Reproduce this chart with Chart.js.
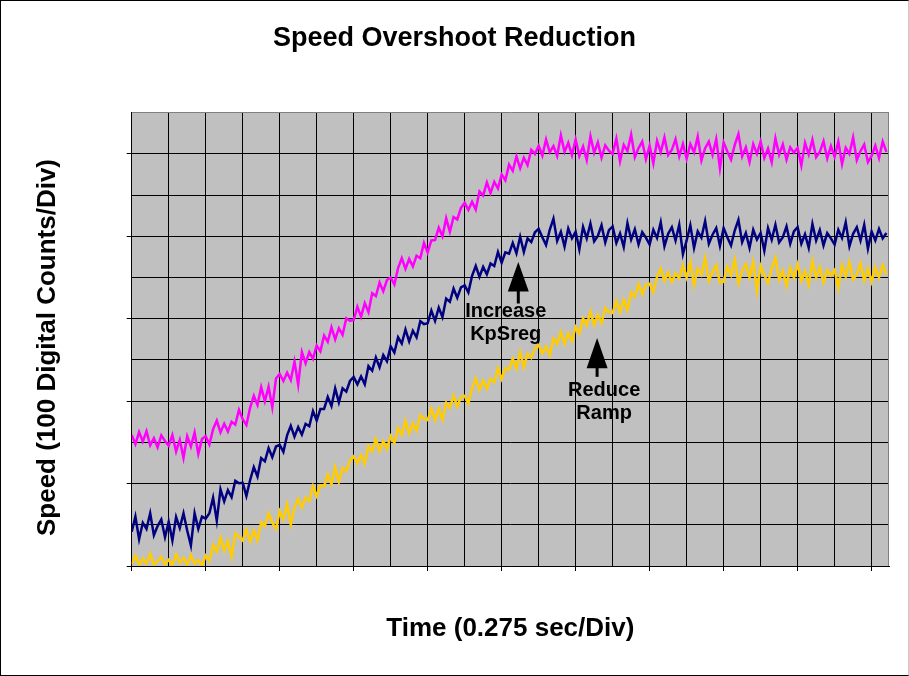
<!DOCTYPE html>
<html>
<head>
<meta charset="utf-8">
<title>Speed Overshoot Reduction</title>
<script src="https://cdn.jsdelivr.net/npm/chart.js@4.4.1/dist/chart.umd.min.js"></script>
<style>
  html, body { margin: 0; padding: 0; background: #fff; }
  #frame {
    position: absolute; left: 0; top: 0;
    width: 909px; height: 676px; box-sizing: border-box;
    border: 1px solid #000; border-right-color: #c8c8c8;
  }
  canvas { display: block; }
</style>
</head>
<body>
<div id="frame"><canvas id="chart" width="907" height="674"></canvas></div>
<script>
// --- Data (speed in divisions, one sample every 0.1 time division) ---
const SAMPLE_STEP = 0.1;

const magentaSpeed = [
  3.18, 2.96, 3.25, 3.02, 3.27, 2.93, 3.10, 2.88, 3.17, 3.03,
  2.92, 3.18, 2.78, 3.06, 2.62, 3.15, 2.90, 3.24, 2.72, 3.08,
  3.15, 2.95, 3.32, 3.53, 3.24, 3.45, 3.26, 3.50, 3.43, 3.79,
  3.56, 3.42, 3.84, 4.13, 3.91, 4.34, 4.00, 4.35, 3.85, 4.55,
  4.66, 4.49, 4.69, 4.51, 4.96, 4.40, 5.19, 4.92, 5.19, 5.03,
  5.35, 5.21, 5.59, 5.44, 5.79, 5.50, 5.77, 5.61, 6.01, 5.95,
  5.97, 6.29, 6.05, 6.38, 6.16, 6.62, 6.55, 6.88, 6.67, 6.94,
  7.00, 6.83, 7.23, 7.47, 7.21, 7.45, 7.27, 7.53, 7.47, 7.84,
  7.61, 7.90, 7.91, 8.21, 8.00, 8.44, 8.11, 8.47, 8.41, 8.69,
  8.81, 8.64, 8.84, 8.65, 9.09, 8.99, 9.31, 9.05, 9.32, 9.16,
  9.50, 9.36, 9.74, 9.59, 9.94, 9.65, 9.91, 9.73, 10.10, 10.00,
  10.20, 9.96, 10.35, 10.04, 10.19, 9.95, 10.45, 10.05, 10.27, 9.97,
  10.35, 9.95, 10.18, 9.85, 10.43, 10.03, 10.28, 9.91, 10.21, 10.08,
  10.00, 10.37, 9.82, 10.22, 10.07, 10.47, 9.92, 10.14, 10.30, 9.87,
  10.20, 9.77, 10.32, 10.04, 10.40, 9.97, 10.10, 10.36, 9.94, 10.24,
  9.88, 10.24, 10.04, 10.42, 9.84, 10.14, 10.30, 9.98, 10.36, 9.65,
  10.28, 10.06, 9.86, 10.22, 10.48, 9.94, 10.16, 9.80, 10.24, 10.00,
  10.30, 9.90, 10.13, 9.80, 10.38, 9.98, 10.23, 9.86, 10.16, 10.03,
  10.15, 9.72, 10.27, 9.99, 10.35, 9.92, 10.05, 10.31, 9.89, 10.19,
  9.93, 10.30, 9.75, 10.15, 10.00, 10.40, 9.85, 10.07, 10.23, 9.80,
  9.95, 10.20, 9.90, 10.30, 10.05
];

const navySpeed = [
  0.83, 1.20, 0.65, 1.05, 0.90, 1.28, 0.75, 0.97, 1.13, 0.70,
  1.07, 0.62, 1.19, 0.92, 1.28, 0.86, 0.50, 1.28, 0.90, 1.20,
  1.15, 1.28, 1.66, 1.10, 1.86, 1.57, 1.84, 1.67, 2.07, 2.01,
  2.02, 1.70, 2.08, 2.40, 2.17, 2.62, 2.54, 2.86, 2.64, 2.90,
  2.94, 2.77, 3.17, 3.40, 3.14, 3.37, 3.19, 3.45, 3.39, 3.76,
  3.53, 3.81, 3.81, 4.10, 3.88, 4.31, 3.97, 4.31, 4.23, 4.49,
  4.59, 4.41, 4.60, 4.41, 4.85, 4.74, 5.06, 4.82, 5.12, 4.97,
  5.33, 5.18, 5.55, 5.40, 5.74, 5.45, 5.71, 5.55, 5.94, 5.87,
  5.89, 6.20, 5.95, 6.27, 6.04, 6.49, 6.41, 6.73, 6.51, 6.76,
  6.81, 6.64, 7.04, 7.28, 7.02, 7.26, 7.08, 7.34, 7.28, 7.62,
  7.36, 7.61, 7.58, 7.84, 7.59, 7.99, 7.62, 7.95, 7.86, 8.10,
  8.18, 7.98, 7.79, 8.16, 8.43, 7.89, 8.11, 7.75, 8.19, 7.95,
  8.11, 7.68, 8.23, 7.95, 8.31, 7.88, 8.01, 8.27, 7.85, 8.15,
  8.24, 7.84, 8.07, 7.74, 8.32, 7.92, 8.17, 7.80, 8.10, 7.97,
  7.80, 8.16, 7.96, 8.34, 7.76, 8.06, 8.22, 7.90, 8.28, 7.57,
  7.90, 8.27, 7.72, 8.12, 7.97, 8.37, 7.82, 8.04, 8.20, 7.77,
  8.20, 7.98, 7.78, 8.14, 8.40, 7.86, 8.08, 7.72, 8.16, 7.92,
  8.08, 7.65, 8.20, 7.92, 8.28, 7.85, 7.98, 8.24, 7.82, 8.12,
  8.22, 7.82, 8.05, 7.72, 8.30, 7.90, 8.15, 7.78, 8.08, 7.95,
  7.80, 8.16, 7.96, 8.34, 7.76, 8.06, 8.22, 7.90, 8.28, 7.70,
  8.12, 7.90, 8.18, 7.95, 8.08
];

const goldSpeed = [
  0.05, 0.25, 0.02, 0.18, 0.06, 0.30, 0.03, 0.12, 0.22, 0.04,
  0.15, 0.02, 0.28, 0.08, 0.20, 0.03, 0.26, 0.06, 0.14, 0.01,
  0.25, 0.13, 0.51, 0.35, 0.69, 0.37, 0.61, 0.22, 0.79, 0.70,
  0.62, 0.89, 0.59, 0.86, 0.62, 1.06, 0.97, 1.28, 1.05, 0.90,
  1.33, 1.13, 1.50, 1.00, 1.42, 1.63, 1.42, 1.66, 1.58, 1.94,
  1.70, 1.96, 1.94, 2.22, 1.98, 2.40, 2.04, 2.38, 2.30, 2.56,
  2.66, 2.49, 2.69, 2.49, 2.91, 2.78, 3.08, 2.79, 3.03, 2.84,
  3.15, 2.99, 3.35, 3.18, 3.52, 3.21, 3.46, 3.28, 3.66, 3.58,
  3.54, 3.82, 3.54, 3.82, 3.55, 3.96, 3.84, 4.13, 3.87, 4.10,
  4.13, 3.94, 4.32, 4.55, 4.27, 4.50, 4.30, 4.54, 4.46, 4.80,
  4.54, 4.80, 4.77, 5.03, 4.79, 5.19, 4.82, 5.15, 5.05, 5.28,
  5.36, 5.16, 5.33, 5.11, 5.52, 5.39, 5.68, 5.39, 5.65, 5.46,
  5.80, 5.64, 6.01, 5.84, 6.17, 5.85, 6.09, 5.90, 6.26, 6.16,
  6.14, 6.43, 6.16, 6.46, 6.21, 6.64, 6.54, 6.84, 6.60, 6.83,
  6.85, 6.65, 7.02, 7.22, 6.92, 7.12, 6.89, 7.10, 6.98, 7.29,
  7.00, 7.37, 6.82, 7.22, 7.07, 7.47, 6.92, 7.14, 7.30, 6.87,
  6.90, 7.26, 7.06, 7.44, 6.86, 7.16, 7.32, 7.00, 7.38, 6.67,
  7.28, 7.06, 6.86, 7.22, 7.48, 6.94, 7.16, 6.80, 7.24, 7.00,
  7.32, 6.92, 7.15, 6.82, 7.40, 7.00, 7.25, 6.88, 7.18, 7.05,
  7.18, 6.75, 7.30, 7.02, 7.38, 6.95, 7.08, 7.34, 6.92, 7.22,
  6.90, 7.25, 7.00, 7.30, 7.08
];

// Arrow callouts, in data units (x = time div, y = speed div)
const callouts = [
  { lines: ['Increase', 'KpSreg'], textX: 10.11, textY: [6.17, 5.62], tip: [10.45, 7.38], base: 6.66, tail: 6.37 },
  { lines: ['Reduce', 'Ramp'],     textX: 12.77, textY: [4.26, 3.71], tip: [12.58, 5.53], base: 4.80, tail: 4.59 }
];

const FONT = '"Liberation Sans", Arial, Helvetica, sans-serif';
Chart.defaults.font.family = FONT;
Chart.defaults.color = '#000';

const toPoints = arr => arr.map((v, i) => ({ x: i * SAMPLE_STEP, y: v }));

// grey plot area, plus grey right edge like the original
const plotArea = {
  id: 'plotArea',
  beforeDraw(chart) {
    const { ctx, chartArea: a } = chart;
    ctx.save();
    ctx.fillStyle = '#c0c0c0';
    ctx.fillRect(a.left, a.top, a.right - a.left, a.bottom - a.top);
    ctx.restore();
  },
  afterDraw(chart) {
    const { ctx, chartArea: a } = chart;
    ctx.save();
    ctx.strokeStyle = '#808080';
    ctx.lineWidth = 1;
    ctx.beginPath();
    ctx.moveTo(Math.round(a.right) - 0.5, a.top);
    ctx.lineTo(Math.round(a.right) - 0.5, a.bottom);
    ctx.stroke();
    ctx.restore();
  }
};

// vertical axis title, centred where the original has it
const yTitle = {
  id: 'yTitle',
  afterDraw(chart) {
    const { ctx } = chart;
    ctx.save();
    ctx.translate(46.8, 346.5);
    ctx.rotate(-Math.PI / 2);
    ctx.font = 'bold 26px ' + FONT;
    ctx.fillStyle = '#000';
    ctx.textAlign = 'center';
    ctx.textBaseline = 'middle';
    ctx.fillText('Speed (100 Digital Counts/Div)', 0, 0);
    ctx.restore();
  }
};

// "Increase KpSreg" and "Reduce Ramp" arrows
const calloutPlugin = {
  id: 'callouts',
  afterDatasetsDraw(chart) {
    const { ctx, scales: { x, y } } = chart;
    ctx.save();
    ctx.fillStyle = '#000';
    ctx.strokeStyle = '#000';
    ctx.font = 'bold 20px ' + FONT;
    ctx.textAlign = 'center';
    ctx.textBaseline = 'middle';
    callouts.forEach(c => {
      const tx = x.getPixelForValue(c.tip[0]);
      const tipY = y.getPixelForValue(c.tip[1]);
      const baseY = y.getPixelForValue(c.base);
      const tailY = y.getPixelForValue(c.tail);
      ctx.beginPath();
      ctx.moveTo(tx, tipY);
      ctx.lineTo(tx - 10.5, baseY);
      ctx.lineTo(tx + 10.5, baseY);
      ctx.closePath();
      ctx.fill();
      ctx.lineWidth = 3;
      ctx.beginPath();
      ctx.moveTo(tx, baseY - 1);
      ctx.lineTo(tx, tailY);
      ctx.stroke();
      c.lines.forEach((t, i) => ctx.fillText(t, x.getPixelForValue(c.textX), y.getPixelForValue(c.textY[i])));
    });
    ctx.restore();
  }
};

const evenTick = c => (c.tick && Math.round(c.tick.value) % 2 === 0) ? '#000' : 'rgba(0,0,0,0)';

new Chart(document.getElementById('chart'), {
  type: 'line',
  data: {
    datasets: [
      { label: 'Original', data: toPoints(magentaSpeed), borderColor: '#ff00ff' },
      { label: 'Increase KpSreg', data: toPoints(navySpeed), borderColor: '#000080' },
      { label: 'Reduce Ramp', data: toPoints(goldSpeed), borderColor: '#ffcc00' }
    ]
  },
  options: {
    responsive: false,
    animation: false,
    events: [],
    datasets: { line: { borderWidth: 2.5, pointRadius: 0, tension: 0, fill: false } },
    layout: { padding: { left: 19, right: 19, top: 0, bottom: 0 } },
    plugins: {
      legend: { display: false },
      tooltip: { enabled: false },
      title: {
        display: true,
        text: 'Speed Overshoot Reduction',
        color: '#000',
        font: { size: 27, weight: 'bold' },
        padding: { top: 21, bottom: 58.3 }
      }
    },
    scales: {
      x: {
        type: 'linear',
        min: 0,
        max: 20.47,
        ticks: { display: false, stepSize: 1, includeBounds: false, autoSkip: false },
        grid: { color: '#000', lineWidth: 1, tickLength: 5, tickColor: evenTick },
        border: { color: '#000', width: 1 },
        title: {
          display: true,
          text: 'Time (0.275 sec/Div)',
          color: '#000',
          font: { size: 26, weight: 'bold' },
          padding: { top: 0, bottom: 31 }
        },
        afterFit: s => { s.height = 109; }
      },
      y: {
        type: 'linear',
        min: 0,
        max: 11,
        ticks: { display: false, stepSize: 1, autoSkip: false },
        grid: {
          color: c => (c.tick && c.tick.value === 11) ? '#808080' : '#000',
          lineWidth: 1,
          tickLength: 5,
          tickColor: evenTick
        },
        border: { color: '#000', width: 1 },
        afterFit: s => { s.width = 111.7; }
      }
    }
  },
  plugins: [plotArea, yTitle, calloutPlugin]
});
</script>
</body>
</html>
